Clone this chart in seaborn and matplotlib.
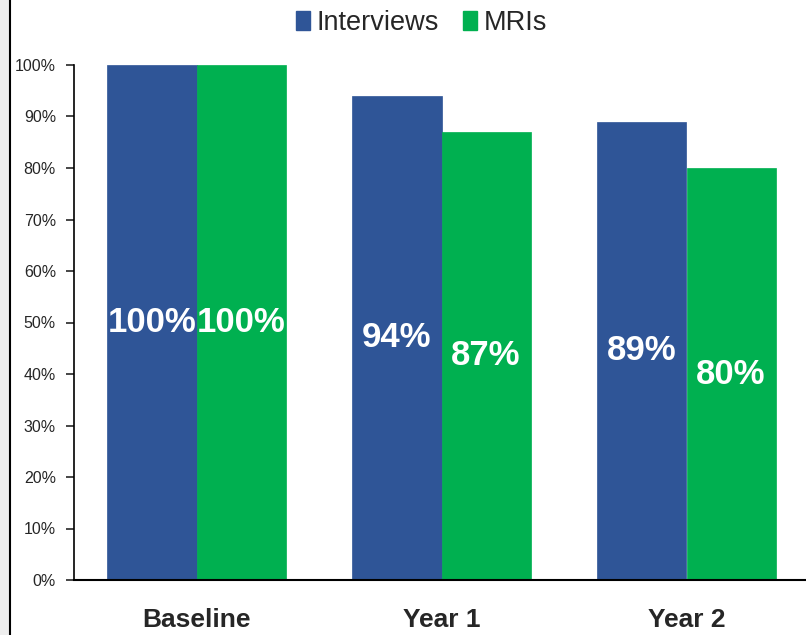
import matplotlib
matplotlib.use("Agg")
import matplotlib.pyplot as plt
import seaborn as sns
import pandas as pd
from matplotlib.patches import Rectangle
from matplotlib.lines import Line2D
from matplotlib.ticker import FuncFormatter

categories = ["Baseline", "Year 1", "Year 2"]
series = ["Interviews", "MRIs"]
interviews = [100, 94, 89]
mris = [100, 87, 80]
colors = ["#2F5597", "#00B050"]

df = pd.DataFrame({
    "Time": categories * 2,
    "Series": [series[0]] * 3 + [series[1]] * 3,
    "Value": interviews + mris,
})

sns.set_style("white")
plt.rcParams['font.family'] = ['Liberation Sans', 'DejaVu Sans']

fig = plt.figure(figsize=(8.06, 6.35), dpi=100)
ax = fig.add_axes([74/806, 55/635, 735/806, 515/635])

sns.barplot(data=df, x="Time", y="Value", hue="Series", palette=colors,
            width=0.727, gap=0, saturation=1, ax=ax, legend=False, linewidth=0)

for cont in ax.containers:
    for p in cont.patches:
        p.set_edgecolor(p.get_facecolor())
        p.set_linewidth(0.5)
    ax.bar_label(cont, labels=[f"{int(v)}%" for v in cont.datavalues],
                 label_type="center", color="white", fontweight="bold", fontsize=25)

ax.set_xlim(-0.5, 2.5)
ax.set_ylim(0, 100)
ax.set_yticks(range(0, 101, 10))
ax.yaxis.set_major_formatter(FuncFormatter(lambda v, p: f"{int(v)}%"))
ax.set_xlabel("")
ax.set_ylabel("")
for s in ["top", "right"]:
    ax.spines[s].set_visible(False)
ax.spines["left"].set_color("black")
ax.spines["bottom"].set_color("black")
ax.spines["left"].set_linewidth(1.2)
ax.spines["bottom"].set_linewidth(1.5)
ax.tick_params(axis="y", left=True, length=6, width=1.2, direction="out", labelsize=11.5, pad=7)
ax.tick_params(axis="x", bottom=False, labelsize=19, pad=17)
for lab in ax.get_xticklabels():
    lab.set_fontweight("bold")

handles = [Rectangle((0, 0), 1, 1, color=c) for c in colors]
fig.legend(handles, series, loc="upper center", bbox_to_anchor=(0.523, 1.022), ncol=2,
           frameon=False, fontsize=19.5, handlelength=0.5, handleheight=0.7,
           handletextpad=0.25, columnspacing=0.9)

# left gray strip and border line
fig.add_artist(Rectangle((0, 0), 8/806, 1, transform=fig.transFigure, color="#EEEEEE", zorder=0))
fig.add_artist(Line2D([9.5/806, 9.5/806], [0, 1], transform=fig.transFigure, color="black", lw=1.5))

fig.savefig("out.png", dpi=100)
